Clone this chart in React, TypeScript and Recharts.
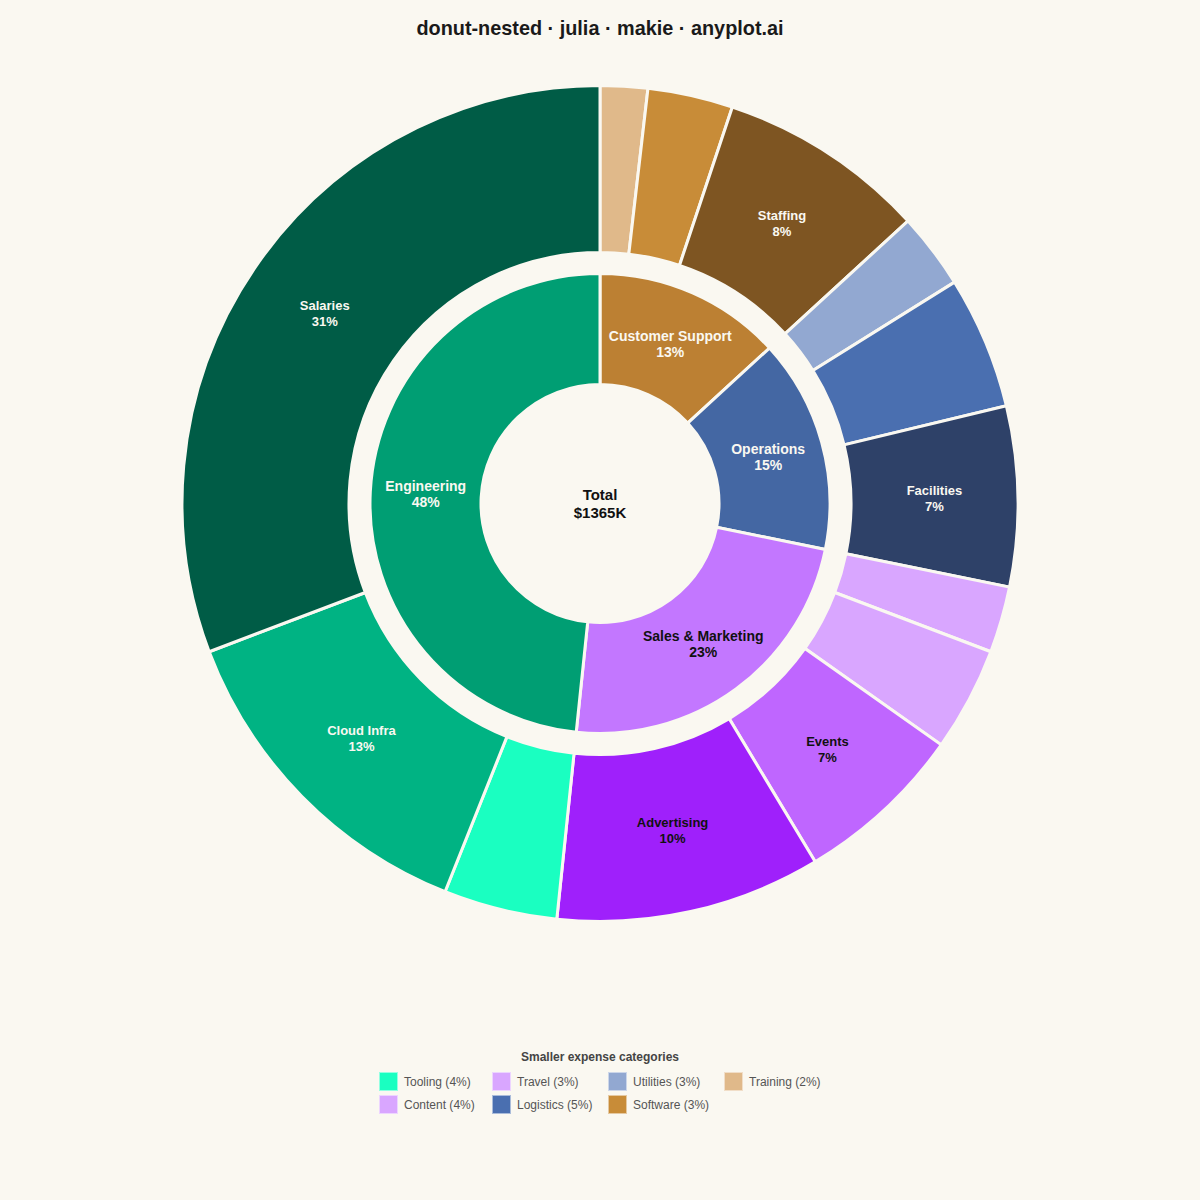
import { PieChart, Pie, Cell } from 'recharts'

const BG = '#FAF8F1'
const LIGHT = '#FAF8F1'
const DARK = '#111111'
const FONT = '"Liberation Sans", Arial, sans-serif'

// inner ring, clockwise from the top
const groupNames = ['Customer Support', 'Operations', 'Sales & Marketing', 'Engineering']
const groupValues = [180, 205, 320, 660]
const groupColors = ['#BC8033', '#4467A3', '#C377FF', '#009E73']
const groupText = [LIGHT, LIGHT, DARK, LIGHT]

// outer ring
const itemNames = ['Training', 'Software', 'Staffing', 'Utilities', 'Logistics', 'Facilities', 'Travel', 'Content', 'Events', 'Advertising', 'Tooling', 'Cloud Infra', 'Salaries']
const itemValues = [25, 45, 110, 40, 70, 95, 35, 55, 90, 140, 60, 180, 420]
const itemColors = ['#E0B98A', '#C88C38', '#7E5522', '#92A8D1', '#4A6FB0', '#2E4168', '#D9A6FF', '#D9A6FF', '#BF66FF', '#9F20FB', '#1AFFC1', '#00B383', '#005C46']
const itemText = [LIGHT, LIGHT, LIGHT, LIGHT, LIGHT, LIGHT, DARK, DARK, DARK, DARK, DARK, LIGHT, LIGHT]
const unlabelled = ['Training', 'Software', 'Utilities', 'Logistics', 'Travel', 'Content', 'Tooling']

const legendRows = [
  ['Tooling', 'Travel', 'Utilities', 'Training'],
  ['Content', 'Logistics', 'Software'],
]

const total = itemValues.reduce((a, b) => a + b, 0)
const groups = groupNames.map((name, i) => ({ name, value: groupValues[i], text: groupText[i] }))
const items = itemNames.map((name, i) => ({ name, value: itemValues[i], text: itemText[i] }))

function ringLabel(p: any, size: number) {
  if (unlabelled.includes(p.name)) return null
  const r = (p.innerRadius + p.outerRadius) / 2
  const a = (-p.midAngle * Math.PI) / 180
  const x = p.cx + r * Math.cos(a)
  const y = p.cy + r * Math.sin(a)
  return (
    <text x={x} y={y} textAnchor="middle" fill={p.payload.text} fontFamily={FONT} fontWeight="bold" fontSize={size}>
      <tspan x={x} y={y - 3}>{p.name}</tspan>
      <tspan x={x} y={y + 13}>{Math.round(p.percent * 100)}%</tspan>
    </text>
  )
}

function LegendBlock() {
  return (
    <div style={{ position: 'absolute', left: 0, top: 1050, width: 1200, fontFamily: FONT, color: '#555', fontSize: 12 }}>
      <div style={{ textAlign: 'center', fontWeight: 'bold', fontSize: 12, lineHeight: '14px', color: '#444' }}>Smaller expense categories</div>
      <div style={{ position: 'absolute', left: 379, top: 21, display: 'grid', gridTemplateColumns: '113px 116px 116px 110px', rowGap: 2 }}>
        {legendRows.flat().map(name => {
          const i = itemNames.indexOf(name)
          return (
            <div key={name} style={{ display: 'flex', alignItems: 'center', height: 21, whiteSpace: 'nowrap' }}>
              <span style={{ width: 19, height: 19, boxSizing: 'border-box', background: itemColors[i], border: '1px solid #ffffff88', marginRight: 6 }} />
              {name} ({Math.round((itemValues[i] / total) * 100)}%)
            </div>
          )
        })}
      </div>
    </div>
  )
}

export default function App() {
  return (
    <div style={{ position: 'absolute', left: 0, top: 0, width: 1200, height: 1200, background: BG, overflow: 'hidden' }}>
      <div style={{ position: 'absolute', top: 16, width: 1200, textAlign: 'center', fontFamily: FONT, fontWeight: 'bold', fontSize: 19.85, lineHeight: '24px', color: '#1A1A1A' }}>
        donut-nested · julia · makie · anyplot.ai
      </div>
      <PieChart width={1200} height={1200} margin={{ top: 0, right: 0, bottom: 0, left: 0 }}>
        <Pie
          data={items} dataKey="value" nameKey="name" cx={600} cy={503.5}
          innerRadius={251} outerRadius={418} startAngle={90} endAngle={-270}
          stroke={BG} strokeWidth={3} labelLine={false}
          label={(p: any) => ringLabel(p, 13)} isAnimationActive={false}
        >
          {itemColors.map((c, i) => <Cell key={i} fill={c} />)}
        </Pie>
        <Pie
          data={groups} dataKey="value" nameKey="name" cx={600} cy={503.5}
          innerRadius={119} outerRadius={230} startAngle={90} endAngle={-270}
          stroke={BG} strokeWidth={3} labelLine={false}
          label={(p: any) => ringLabel(p, 14)} isAnimationActive={false}
        >
          {groupColors.map((c, i) => <Cell key={i} fill={c} />)}
        </Pie>
        <text x={600} textAnchor="middle" fontFamily={FONT} fontWeight="bold" fontSize={15} fill={DARK}>
          <tspan x={600} y={500}>Total</tspan>
          <tspan x={600} y={518}>${total}K</tspan>
        </text>
      </PieChart>
      <LegendBlock />
    </div>
  )
}
